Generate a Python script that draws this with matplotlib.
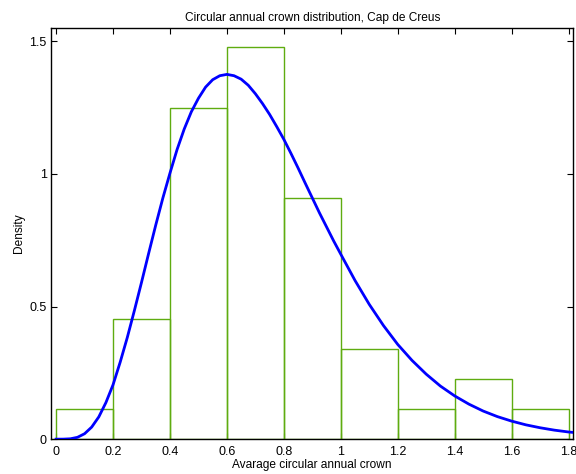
import numpy as np
import matplotlib
matplotlib.use('Agg')
from matplotlib import pyplot as plt

# histogram (density), bin width 0.2
bin_edges = [0.0, 0.2, 0.4, 0.6, 0.8, 1.0, 1.2, 1.4, 1.6, 1.8]
bin_density = [0.1136, 0.4545, 1.25, 1.477, 0.909, 0.341, 0.1136, 0.227, 0.1136]

# fitted density curve
curve_x = [0.0, 0.025, 0.05, 0.075, 0.1, 0.125, 0.15, 0.175, 0.2, 0.225,
           0.25, 0.275, 0.3, 0.325, 0.35, 0.375, 0.4, 0.425, 0.45, 0.475,
           0.5, 0.525, 0.55, 0.575, 0.6, 0.625, 0.65, 0.675, 0.7, 0.725,
           0.75, 0.775, 0.8, 0.825, 0.85, 0.875, 0.9, 0.925, 0.95, 0.975,
           1.0, 1.05, 1.1, 1.15, 1.2, 1.25, 1.3, 1.35, 1.4, 1.45, 1.5,
           1.55, 1.6, 1.65, 1.7, 1.75, 1.8, 1.82]
curve_y = [0.0, 0.0001, 0.0014, 0.0069, 0.0205, 0.0455, 0.084, 0.138,
           0.205, 0.290, 0.383, 0.485, 0.591, 0.700, 0.807, 0.909, 1.003,
           1.092, 1.169, 1.234, 1.285, 1.327, 1.355, 1.370, 1.375, 1.370,
           1.357, 1.334, 1.302, 1.265, 1.224, 1.178, 1.130, 1.077, 1.022,
           0.965, 0.909, 0.853, 0.800, 0.747, 0.697, 0.598, 0.508, 0.428,
           0.357, 0.297, 0.245, 0.200, 0.163, 0.132, 0.106, 0.085, 0.068,
           0.054, 0.043, 0.034, 0.027, 0.025]

x_ticks = [0, 0.2, 0.4, 0.6, 0.8, 1.0, 1.2, 1.4, 1.6, 1.8]
x_ticklabels = ['0', '0.2', '0.4', '0.6', '0.8', '1', '1.2', '1.4', '1.6', '1.8']
y_ticks = [0, 0.5, 1.0, 1.5]
y_ticklabels = ['0', '0.5', '1', '1.5']

plt.rcParams['font.family'] = ['Liberation Sans', 'DejaVu Sans']

fig = plt.figure(figsize=(5.76, 4.74), dpi=100)
ax = fig.add_axes([0.0885, 0.0735, 0.907, 0.8675])

widths = np.diff(bin_edges)
ax.bar(bin_edges[:-1], bin_density, width=widths, align='edge',
       fill=False, edgecolor='#5fac10', linewidth=1.0, zorder=2)
ax.plot(curve_x, curve_y, '-', color='#0000ff', linewidth=2.0, zorder=3)

ax.set_xlim(-0.018, 1.817)
ax.set_ylim(0, 1.55)
ax.set_xticks(x_ticks)
ax.set_xticklabels(x_ticklabels)
ax.set_yticks(y_ticks)
ax.set_yticklabels(y_ticklabels)
ax.tick_params(direction='in', length=4, width=0.8, top=True, right=True,
               labelsize=9, pad=3)
ax.tick_params(axis='x', pad=5)
for s in ax.spines.values():
    s.set_linewidth(1.0)

ax.set_title('Circular annual crown distribution, Cap de Creus', fontsize=8.6, pad=5)
ax.set_xlabel('Avarage circular annual crown', fontsize=8.6, labelpad=1)
ax.set_ylabel('Density', fontsize=8.6, labelpad=3)

fig.savefig('out.png', dpi=100)
